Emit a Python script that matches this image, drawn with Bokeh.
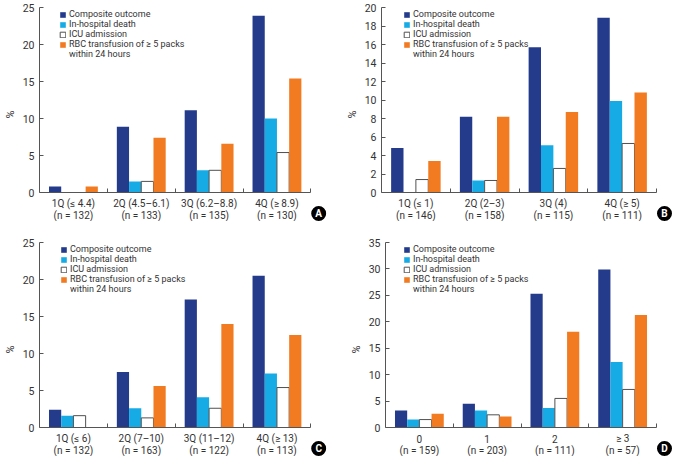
from bokeh.plotting import figure
from bokeh.models import Range1d, FixedTicker, Legend, LegendItem
from bokeh.core.properties import value
from bokeh.layouts import column, row
from bokeh.embed import file_html
from bokeh.resources import INLINE

series_names = ["Composite outcome", "In-hospital death", "ICU admission",
                "RBC transfusion of \u2265 5 packs"]
legend_line2 = "within 24 hours"

# Panel A
a_groups = ["1Q (\u2264 4.4)", "2Q (4.5\u20136.1)", "3Q (6.2\u20138.8)", "4Q (\u2265 8.9)"]
a_n = ["(n = 132)", "(n = 133)", "(n = 135)", "(n = 130)"]
a_composite = [0.8, 8.9, 11.1, 23.9]
a_death = [0.0, 1.5, 3.0, 10.0]
a_icu = [0.0, 1.5, 3.0, 5.4]
a_rbc = [0.8, 7.4, 6.6, 15.4]

# Panel B
b_groups = ["1Q (\u2264 1)", "2Q (2\u20133)", "3Q (4)", "4Q (\u2265 5)"]
b_n = ["(n = 146)", "(n = 158)", "(n = 115)", "(n = 111)"]
b_composite = [4.8, 8.2, 15.7, 18.9]
b_death = [0.0, 1.3, 5.1, 9.9]
b_icu = [1.4, 1.3, 2.6, 5.3]
b_rbc = [3.4, 8.2, 8.7, 10.8]

# Panel C
c_groups = ["1Q (\u2264 6)", "2Q (7\u201310)", "3Q (11\u201312)", "4Q (\u2265 13)"]
c_n = ["(n = 132)", "(n = 163)", "(n = 122)", "(n = 113)"]
c_composite = [2.4, 7.5, 17.3, 20.5]
c_death = [1.6, 2.6, 4.1, 7.3]
c_icu = [1.6, 1.3, 2.6, 5.4]
c_rbc = [0.0, 5.6, 14.0, 12.5]

# Panel D
d_groups = ["0", "1", "2", "\u2265 3"]
d_n = ["(n = 159)", "(n = 203)", "(n = 111)", "(n = 57)"]
d_composite = [3.2, 4.5, 25.3, 29.9]
d_death = [1.5, 3.2, 3.7, 12.4]
d_icu = [1.5, 2.4, 5.5, 7.2]
d_rbc = [2.6, 2.1, 18.1, 21.3]

COLORS = ["#243B8C", "#17ABE6", "#FFFFFF", "#F27B22"]
LINES = [None, None, "#505050", None]
FONT = "Roboto"
TXT = "#333333"
AXC = "#555555"
PLOT_H = 185      # pixel height of the 0..ymax part
BELOW = 29        # pixel room below the zero line (labels, badge)
EXT = 16          # pixel room right of the category axis (badge)


def panel(groups, ns, data, ymax, ystep, letter, width, top, left, axis_len, leg_dx):
    height = top + PLOT_H + BELOW
    fw = axis_len + EXT
    right = width - left - fw
    ppu = axis_len / 4.0
    py = ymax / PLOT_H
    p = figure(width=width, height=height, output_backend="svg", toolbar_location=None,
               x_range=Range1d(0, 4 + EXT / ppu), y_range=Range1d(-BELOW * py, ymax),
               min_border_left=left, min_border_right=right,
               min_border_top=top, min_border_bottom=0)
    p.outline_line_color = None
    p.grid.visible = False
    bw = 0.18
    rends = []
    for j, vals in enumerate(data):
        xs = [i + 0.5 + (j - 1.5) * bw for i in range(len(vals))]
        r = p.vbar(x=xs, top=vals, bottom=0, width=bw, fill_color=COLORS[j],
                   line_color=LINES[j], line_width=1)
        rends.append(r)
    dummy = p.vbar(x=[], top=[], bottom=0, width=bw, fill_alpha=0, line_alpha=0)

    xa = p.xaxis[0]
    xa.fixed_location = 0
    xa.bounds = (0, 4)
    xa.ticker = FixedTicker(ticks=[], minor_ticks=[0, 1, 2, 3, 4])
    xa.major_tick_line_color = None
    xa.minor_tick_in = 4
    xa.minor_tick_out = 0
    xa.minor_tick_line_color = AXC
    xa.axis_line_color = AXC
    xa.major_label_text_font_size = "0px"

    ya = p.yaxis[0]
    ya.bounds = (0, ymax)
    ya.ticker = FixedTicker(ticks=list(range(0, ymax + 1, ystep)))
    ya.minor_tick_line_color = None
    ya.major_tick_in = 4
    ya.major_tick_out = 0
    ya.major_tick_line_color = AXC
    ya.axis_line_color = AXC
    ya.major_label_text_font = FONT
    ya.major_label_text_font_size = "10.5px"
    ya.major_label_text_color = TXT
    ya.major_label_standoff = 5
    ya.axis_label = "%"
    ya.axis_label_text_font = FONT
    ya.axis_label_text_font_style = "normal"
    ya.axis_label_text_font_size = "11px"
    ya.axis_label_text_color = TXT
    ya.axis_label_standoff = 3

    # category labels (two lines) below the zero line
    cx = [i + 0.5 for i in range(len(groups))]
    p.text(x=cx, y=[-11 * py] * len(groups), text=groups, text_align="center",
           text_baseline="middle", text_font=value(FONT), text_font_size="10px",
           text_color=TXT)
    p.text(x=cx, y=[-23 * py] * len(ns), text=ns, text_align="center",
           text_baseline="middle", text_font=value(FONT), text_font_size="10px",
           text_color=TXT)

    # panel badge
    bx, by = 4 + 8 / ppu, -21 * py
    p.scatter(x=[bx], y=[by], size=15, marker="circle", fill_color="black",
              line_color=None)
    p.text(x=[bx], y=[by], text=[letter], text_align="center", text_baseline="middle",
           text_font=value(FONT), text_font_style="bold", text_font_size="10px",
           text_color="white")

    items = [LegendItem(label=series_names[j], renderers=[rends[j]]) for j in range(4)]
    items.append(LegendItem(label=legend_line2, renderers=[dummy]))
    frame_h = PLOT_H + BELOW
    leg = Legend(items=items, location=(leg_dx, frame_h - 52),
                 border_line_color=None, background_fill_alpha=0,
                 padding=0, margin=0, spacing=-2,
                 glyph_width=7, glyph_height=7, label_height=9, label_standoff=3,
                 label_text_font=FONT, label_text_font_size="9px",
                 label_text_color=TXT)
    p.add_layout(leg)
    return p


pa = panel(a_groups, a_n, [a_composite, a_death, a_icu, a_rbc], 25, 5, "A",
           336, 7, 32, 278, 20)
pb = panel(b_groups, b_n, [b_composite, b_death, b_icu, b_rbc], 20, 2, "B",
           337, 7, 45, 275, 22)
pc = panel(c_groups, c_n, [c_composite, c_death, c_icu, c_rbc], 25, 5, "C",
           336, 21, 32, 278, 21)
pd = panel(d_groups, d_n, [d_composite, d_death, d_icu, d_rbc], 35, 5, "D",
           337, 21, 49, 271, 18)

layout = column(row(pa, pb), row(pc, pd))
open("out.html", "w").write(file_html(layout, INLINE))
